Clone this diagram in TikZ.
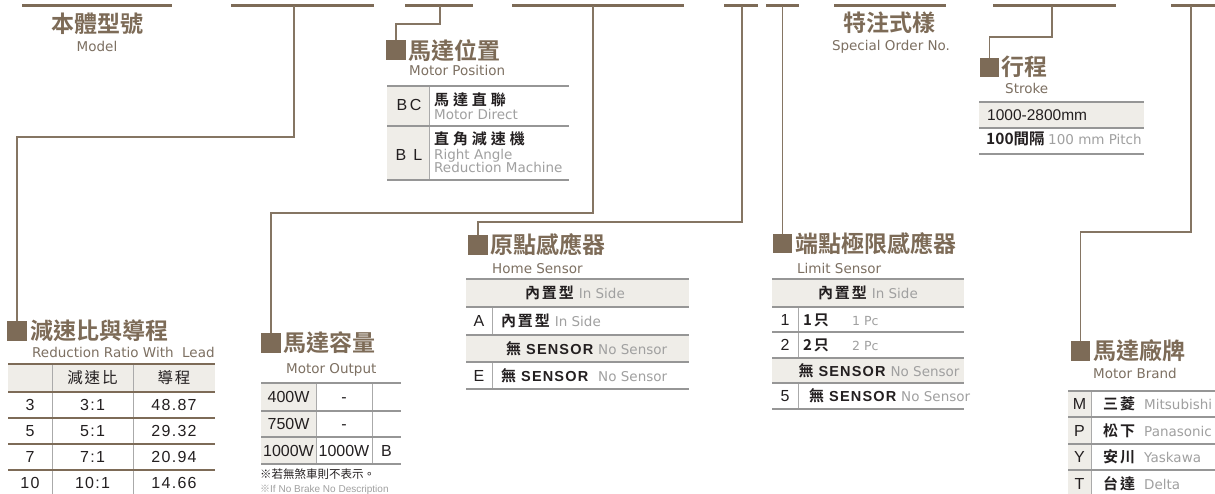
\documentclass[tikz,border=0pt]{standalone}
\usepackage{fontspec}
\newfontfamily\cjk[BoldFont={Noto Sans CJK TC Bold}]{Noto Sans CJK TC}
\newfontfamily\cjks[LetterSpace=12,BoldFont={Noto Sans CJK TC Bold}]{Noto Sans CJK TC}
\newfontfamily\cjkw[LetterSpace=26,BoldFont={Noto Sans CJK TC Bold}]{Noto Sans CJK TC}
\newfontfamily\enf{DejaVu Sans}
\newfontfamily\arf{Liberation Sans}
\newfontfamily\arfs[LetterSpace=8]{Liberation Sans}
\newfontfamily\arfw[LetterSpace=16]{Liberation Sans}
\newcommand\myfs[1]{\fontsize{#1}{#1}\selectfont}
\newcommand\gtxt[1]{{\enf\mdseries\myfs{13.5}\color{gtx}#1}}
\newcommand\sens{{\cjks\bfseries 無}\hspace{5pt}{\arfs\bfseries\myfs{14.5}SENSOR}}
\definecolor{brn}{RGB}{125,107,87}
\definecolor{lnc}{RGB}{133,117,99}
\definecolor{subc}{RGB}{125,112,98}
\definecolor{rulec}{RGB}{150,150,150}
\definecolor{vrc}{RGB}{170,170,170}
\definecolor{beige}{RGB}{239,237,232}
\definecolor{txt}{RGB}{35,31,32}
\definecolor{gtx}{RGB}{160,160,160}
\tikzset{
  bar/.style={fill=brn, minimum height=3, inner sep=0, outer sep=0},
  sq/.style={fill=brn, minimum width=20, minimum height=20, inner sep=0, outer sep=0},
  conn/.style={draw=lnc, line width=1.5},
  ttl/.style={anchor=base west, inner sep=0, text=brn, font=\cjk\bfseries\myfs{23}},
  sub/.style={anchor=base west, inner sep=0, text=subc, font=\enf\myfs{13.5}},
  hr/.style={draw=rulec, line width=2},
  hrb/.style={draw=brn, line width=2},
  vr/.style={draw=vrc, line width=1},
  code/.style={anchor=base, inner sep=0, text=txt, font=\arf\myfs{16}},
  num/.style={anchor=base, inner sep=0, text=txt, font=\arfs\myfs{16}},
  ck/.style={anchor=base west, inner sep=0, text=txt, font=\cjks\bfseries\myfs{15}},
  gr/.style={anchor=base west, inner sep=0, text=gtx, font=\enf\myfs{13.5}},
}
\begin{document}
\begin{tikzpicture}[x=1pt,y=-1pt]
\fill[white] (0,0) rectangle (1215,494);
\useasboundingbox (0,0) rectangle (1215,494);

% ---------- top bars ----------
\node[bar, minimum width=150] (b1) at (97,6) {};
\node[bar, minimum width=143] (b2) at (302.5,6) {};
\node[bar, minimum width=68] (b3) at (439,6) {};
\node[bar, minimum width=172] (b4) at (598,6) {};
\node[bar, minimum width=34] (b5) at (741,6) {};
\node[bar, minimum width=33] (b6) at (782.5,6) {};
\node[bar, minimum width=112] (b7) at (890,6) {};
\node[bar, minimum width=123] (b8) at (1054.5,6) {};
\node[bar, minimum width=48] (b9) at (1195,6) {};

% ---------- top labels ----------
\node[anchor=base, inner sep=0, text=brn, font=\cjk\bfseries\myfs{23}] (tModel) at (97,32.7) {本體型號};
\node[sub, anchor=base] (sModel) at (97,52) {Model};
\node[anchor=base, inner sep=0, text=brn, font=\cjk\bfseries\myfs{23}] (tSpec) at (889.5,31.7) {特注式樣};
\node[sub, anchor=base] (sSpec) at (891,51) {Special Order No.};

% ---------- squares ----------
\node[sq] (sqRR) at (17,330.5) {};
\node[sq] (sqMP) at (396,50) {};
\node[sq] (sqMO) at (271,343) {};
\node[sq] (sqHS) at (478,245) {};
\node[sq, minimum width=19, minimum height=19] (sqLS) at (782.5,243.5) {};
\node[sq, minimum width=19, minimum height=19] (sqST) at (989.5,67.5) {};
\node[sq, minimum width=19] (sqMB) at (1080.5,351) {};

% ---------- connectors ----------
\draw[conn] ([xshift=63]b2.west) -- ++(0,131) -| (sqRR.north);
\draw[conn] ([xshift=35]b3.west) -- ++(0,18) -| (sqMP.north);
\draw[conn] ([xshift=81]b4.west) -- ++(0,207) -| (sqMO.north);
\draw[conn] ([xshift=18]b5.west) -- ++(0,216) -| (sqHS.north);
\draw[conn] (b6.center) -- (sqLS.north);
\draw[conn] ([xshift=59]b8.west) -- ++(0,31) -| (sqST.north);
\draw[conn] ([xshift=20]b9.west) -- ++(0,226) -| (sqMB.north);

% ---------- 減速比與導程 ----------
\node[ttl] (tRR) at (30,339.2) {減速比與導程};
\node[sub] (sRR) at (32,357.3) {Reduction Ratio With\ \ Lead};
\fill[beige] (8,364) rectangle (215,391.5);
\draw[vr] (52,364) -- (52,494);
\draw[vr] (133,364) -- (133,494);
\foreach \yy in {364,391.5,417.5,444,470} \draw[hrb] (8,\yy) -- (215,\yy);
\node[ck, anchor=base, font=\cjks\mdseries\myfs{15.5}] (hRR1) at (92.5,383.7) {減速比};
\node[ck, anchor=base, font=\cjks\mdseries\myfs{15.5}] (hRR2) at (174,383.7) {導程};
\node[num] (rr1a) at (30,410.7) {3};
\node[num] (rr1b) at (92.5,410.7) {3:1};
\node[num] (rr1c) at (174,410.7) {48.87};
\node[num] (rr2a) at (30,436.7) {5};
\node[num] (rr2b) at (92.5,436.7) {5:1};
\node[num] (rr2c) at (174,436.7) {29.32};
\node[num] (rr3a) at (30,462.7) {7};
\node[num] (rr3b) at (92.5,462.7) {7:1};
\node[num] (rr3c) at (174,462.7) {20.94};
\node[num] (rr4a) at (30,488.7) {10};
\node[num] (rr4b) at (92.5,488.7) {10:1};
\node[num] (rr4c) at (174,488.7) {14.66};

% ---------- 馬達位置 ----------
\node[ttl] (tMP) at (408,60) {馬達位置};
\node[sub] (sMP) at (409,76) {Motor Position};
\fill[beige] (387,86) rectangle (429,180);
\draw[vr] (429,86) -- (429,180);
\foreach \yy in {86,126,180} \draw[hr] (387,\yy) -- (569,\yy);
\node[code, font=\arfw\myfs{16}] (mpBC) at (409,111) {BC};
\node[code, font=\arfw\myfs{16}] (mpBL) at (409,161) {B L};
\node[ck, font=\cjkw\bfseries\myfs{15}] (mp1) at (434,105.2) {馬達直聯};
\node[gr] (mp1e) at (434,120) {Motor Direct};
\node[ck, font=\cjkw\bfseries\myfs{15}] (mp2) at (434,144.7) {直角減速機};
\node[gr] (mp2e) at (434,159.5) {Right Angle};
\node[gr] (mp2f) at (434,173) {Reduction Machine};

% ---------- 行程 ----------
\node[ttl] (tST) at (1001,75.7) {行程};
\node[sub] (sST) at (1005,93.3) {Stroke};
\fill[beige] (979,102) rectangle (1144,128);
\foreach \yy in {102,128,154} \draw[hr] (979,\yy) -- (1144,\yy);
\node[anchor=base west, inner sep=0, text=txt, font=\arf\myfs{15.5}] (st1) at (987,120.5) {1000-2800mm};
\node[ck, font=\cjk\bfseries\myfs{15.5}] (st2) at (986,145) {100間隔};
\node[gr] (st2e) at (1048,145) {100 mm Pitch};

% ---------- 馬達容量 ----------
\node[ttl] (tMO) at (283,351.7) {馬達容量};
\node[sub] (sMO) at (286,373.3) {Motor Output};
\fill[beige] (261,383) rectangle (316,464);
\draw[vr] (316,383) -- (316,464);
\draw[vr] (372,383) -- (372,464);
\foreach \yy in {383,410.5,437,464} \draw[hr] (261,\yy) -- (401,\yy);
\node[code] (mo1a) at (288.5,402.7) {400W};
\node[code] (mo1b) at (344,402.7) {-};
\node[code] (mo2a) at (288.5,429.7) {750W};
\node[code] (mo2b) at (344,429.7) {-};
\node[code] (mo3a) at (288.5,456.2) {1000W};
\node[code] (mo3b) at (344,456.2) {1000W};
\node[code] (mo3c) at (386.5,456.2) {B};
\node[anchor=base west, inner sep=0, text=txt, font=\cjk\myfs{11.5}] (moN1) at (260,478.4) {※若無煞車則不表示。};
\node[anchor=base west, inner sep=0, text=gtx, font=\arf\myfs{10}] (moN2) at (260,492.5) {{\cjk ※}If No Brake No Description};

% ---------- 原點感應器 ----------
\node[ttl] (tHS) at (490,253.7) {原點感應器};
\node[sub] (sHS) at (492,273.3) {Home Sensor};
\fill[beige] (466,279) rectangle (689,307);
\fill[beige] (466,335) rectangle (689,362);
\draw[vr] (492,307) -- (492,335);
\draw[vr] (492,362) -- (492,389);
\foreach \yy in {279,307,335,362,389} \draw[hr] (466,\yy) -- (689,\yy);
\node[ck, anchor=base] (hs1) at (575,298.7) {內置型\hspace{5pt}\gtxt{In Side}};
\node[code] (hsA) at (479,326.7) {A};
\node[ck] (hs2) at (501,326.7) {內置型\hspace{5pt}\gtxt{In Side}};
\node[ck] (hs3) at (506,354.2) {\sens\hspace{5pt}\gtxt{No Sensor}};
\node[code] (hsE) at (479,381.2) {E};
\node[ck] (hs4) at (501,381.2) {\sens\hspace{10pt}\gtxt{No Sensor}};

% ---------- 端點極限感應器 ----------
\node[ttl] (tLS) at (795,252.2) {端點極限感應器};
\node[sub] (sLS) at (797,273.3) {Limit Sensor};
\fill[beige] (772,279) rectangle (964,307);
\fill[beige] (772,358) rectangle (964,383);
\draw[vr] (798,307) -- (798,358);
\draw[vr] (798,383) -- (798,409);
\foreach \yy in {279,307,332,358,383,409} \draw[hr] (772,\yy) -- (964,\yy);
\node[ck, anchor=base] (ls1) at (868,298.7) {內置型\hspace{5pt}\gtxt{In Side}};
\node[code] (ls2a) at (785,325.2) {1};
\node[ck] (ls2b) at (803,325.2) {1只};
\node[gr, font=\enf\myfs{12.5}] (ls2c) at (852,325.2) {1 Pc};
\node[code] (ls3a) at (785,350.7) {2};
\node[ck] (ls3b) at (803,350.7) {2只};
\node[gr, font=\enf\myfs{12.5}] (ls3c) at (852,350.7) {2 Pc};
\node[ck, anchor=base] (ls4) at (879,376.2) {\sens\hspace{5pt}\gtxt{No Sensor}};
\node[code] (ls5a) at (785,401.7) {5};
\node[ck] (ls5b) at (809,401.7) {\sens\hspace{5pt}\gtxt{No Sensor}};

% ---------- 馬達廠牌 ----------
\node[ttl] (tMB) at (1093,359.7) {馬達廠牌};
\node[sub] (sMB) at (1093,378.3) {Motor Brand};
\fill[beige] (1068,391) rectangle (1091,494);
\draw[vr] (1091,391) -- (1091,494);
\foreach \yy in {391,417,444,470} \draw[hr] (1068,\yy) -- (1215,\yy);
\node[code] (mbM) at (1079.5,409.7) {M};
\node[ck] (mbM2) at (1103,409.7) {三菱};
\node[gr] (mbM3) at (1144,409.7) {Mitsubishi};
\node[code] (mbP) at (1079.5,436.2) {P};
\node[ck] (mbP2) at (1103,436.2) {松下};
\node[gr] (mbP3) at (1144,436.2) {Panasonic};
\node[code] (mbY) at (1079.5,462.7) {Y};
\node[ck] (mbY2) at (1103,462.7) {安川};
\node[gr] (mbY3) at (1144,462.7) {Yaskawa};
\node[code] (mbT) at (1079.5,489.2) {T};
\node[ck] (mbT2) at (1103,489.2) {台達};
\node[gr] (mbT3) at (1144,489.2) {Delta};
\end{tikzpicture}
\end{document}
